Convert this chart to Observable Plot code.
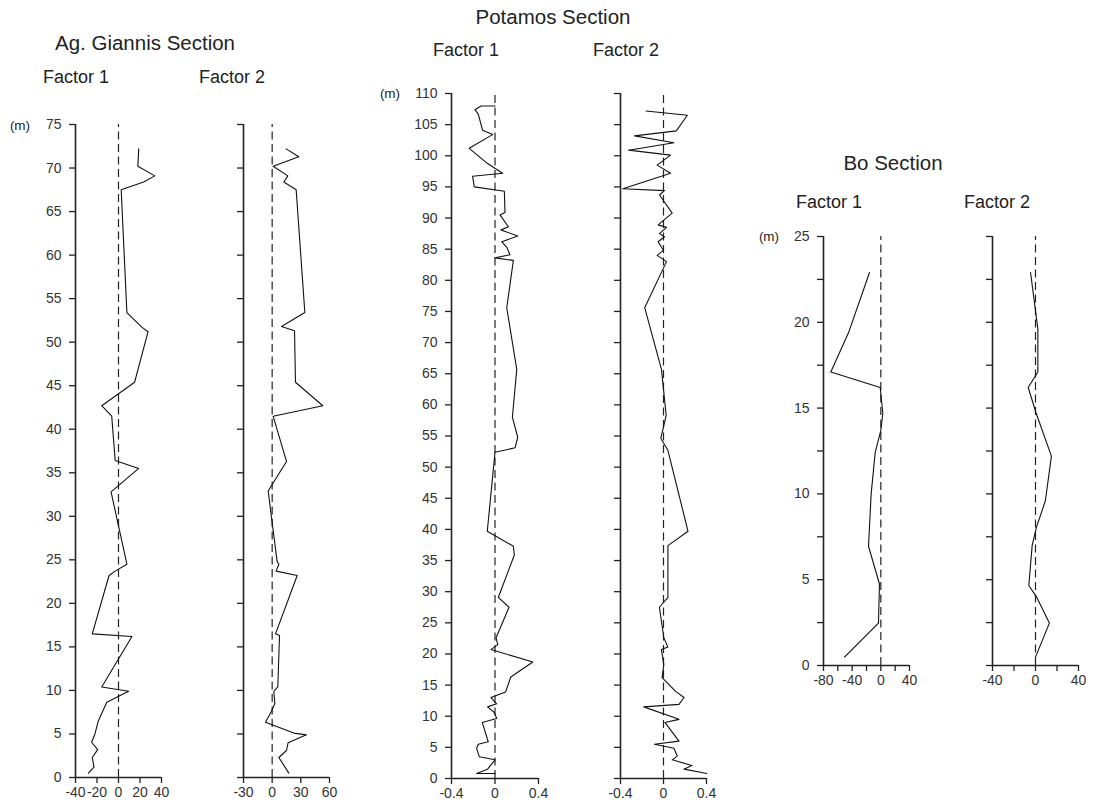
<!DOCTYPE html>
<html><head><meta charset="utf-8">
<script src="https://cdn.jsdelivr.net/npm/d3@7"></script>
<script src="https://cdn.jsdelivr.net/npm/@observablehq/plot@0.6"></script>
<style>
body{margin:0;background:#fff;font-family:"Liberation Sans",Arial,sans-serif;}
#root{position:relative;width:1093px;height:806px;overflow:hidden;background:#fff;}
.t{position:absolute;transform:translate(-50%,-50%);white-space:nowrap;color:#222;}
.panel{position:absolute;}
</style></head><body><div id="root"></div>
<script>
// ---- Ag. Giannis Section ----
const agF1Depth = [72.2, 70.2, 69.1, 68.4, 67.5, 53.4, 51.7, 51.2, 45.4, 42.7, 41.5, 36.4, 35.5, 32.8, 24.5, 23.7, 23.2, 16.5, 16.2, 10.4, 9.9, 8.65, 6.5, 5.0, 4.05, 3.2, 2.3, 1.2, 0.5];
const agF1Value = [18.8, 18, 33.8, 23.4, 2.5, 7.8, 21.9, 27.5, 15, -15.6, -6.3, -3.1, 18.8, -6.9, 7.8, -3.1, -8.8, -24.4, 12.5, -15.6, 9.4, -10.9, -18.8, -21.9, -25, -19.4, -24.4, -22.8, -28];
const agF2Depth = [72.2, 71.3, 70.2, 69.1, 68.4, 67.5, 53.4, 51.8, 51.3, 45.4, 42.7, 41.5, 36.3, 32.9, 24.8, 24.5, 23.7, 23.2, 16.5, 16.3, 10.4, 9.9, 8.5, 7.6, 6.35, 5.1, 4.9, 4.0, 3.1, 2.3, 0.5];
const agF2Value = [14.6, 27.9, 1, 16.4, 12.2, 25.1, 34.2, 9.8, 23.4, 24.4, 53, 1, 15, -4.2, 5.2, 7, 4.2, 26.2, 3.5, 7.7, 5.9, 1.7, 2.8, -0.7, -7, 22.7, 35.9, 16.7, 15, 7, 17.4];

// ---- Potamos Section ----
const ptF1Depth = [108.0, 108.0, 107.4, 106.7, 104.1, 103.4, 101.2, 98.75, 97.2, 96.7, 95.0, 94.3, 90.9, 90.5, 88.6, 88.1, 87.1, 86.2, 85.3, 84.1, 83.6, 83.2, 75.6, 65.7, 58.0, 54.8, 53.1, 52.4, 39.7, 37.3, 35.9, 29.1, 27.5, 22.6, 21.5, 20.7, 18.7, 16.3, 13.9, 13.0, 12.0, 11.5, 10.6, 9.65, 9.0, 5.9, 5.5, 4.85, 3.5, 3.0, 1.5, 0.8, 0.8];
const ptF1Value = [0, -0.129, -0.185, -0.154, -0.114, -0.022, -0.237, -0.068, 0.07, -0.206, -0.19, 0.086, 0.092, 0.046, 0.123, 0.055, 0.209, 0.062, 0.108, 0.138, 0, 0.169, 0.108, 0.2, 0.16, 0.209, 0.185, 0, -0.071, 0.169, 0.178, 0.031, 0.129, 0.01, 0.025, -0.037, 0.348, 0.145, 0.098, -0.037, 0.015, -0.068, -0.006, 0.015, -0.117, -0.062, -0.154, -0.169, -0.145, 0, -0.068, -0.169, 0];
const ptF2Depth = [107.2, 106.5, 104.0, 103.2, 102.1, 100.9, 100.1, 98.5, 97.2, 94.7, 94.4, 93.7, 90.8, 88.9, 88.5, 87.5, 87.0, 86.2, 84.8, 84.0, 83.0, 75.6, 65.7, 58.3, 54.6, 52.7, 39.7, 37.4, 29.1, 27.5, 22.6, 21.1, 20.7, 18.3, 16.2, 14.0, 13.0, 11.9, 11.5, 9.5, 9.0, 6.0, 5.5, 4.85, 3.6, 3.0, 2.1, 1.5, 0.8];
const ptF2Value = [-0.163, 0.222, 0.119, -0.269, 0.097, -0.325, 0.066, -0.059, 0.066, -0.378, 0.009, -0.037, 0.081, -0.05, 0.028, -0.037, 0.009, -0.05, 0, -0.059, 0.028, -0.175, -0.019, 0.025, -0.025, 0.041, 0.228, 0.041, 0.041, -0.038, 0.003, 0.041, -0.019, 0.003, -0.013, 0.113, 0.191, 0.144, -0.184, 0.144, 0.013, 0.144, -0.084, 0.097, 0.128, 0.081, 0.263, 0.191, 0.403];

// ---- Bo Section ----
const boF1Depth = [22.9, 19.4, 17.1, 16.2, 14.7, 13.7, 12.4, 10, 6.95, 4.75, 2.47, 0.49];
const boF1Value = [-15.8, -45, -69.8, -0.9, 2.8, 0, -7.9, -13.5, -17.2, -1.9, -3.3, -50.7];
const boF2Depth = [22.9, 19.6, 17.1, 16.2, 14.7, 12.2, 9.6, 8.06, 7.0, 4.66, 4.0, 2.47, 0.49];
const boF2Value = [-4.6, 2.2, 2.2, -6.8, 0.6, 14.8, 9.2, 0.9, -3.1, -6.2, 0.9, 12.9, 0];

// ---- tick values ----
const agYTicks = d3.range(0, 76, 5);
const ptYTicks = d3.range(0, 111, 5);
const boYTicks = d3.range(0, 25.1, 2.5);
const agF1XTicks = [-40, -20, 0, 20, 40];
const agF2XTicks = [-30, 0, 30, 60];
const ptXTicks = [-0.4, 0, 0.4];
const boF1XTicks = [-80, -60, -40, -20, 0, 20, 40];
const boF1XLabels = [-80, -40, 0, 40];
const boF2XTicks = [-40, -20, 0, 20, 40];
const boF2XLabels = [-40, 0, 40];

const root = document.getElementById("root");
const ML = 50, MR = 12, MT = 8, MB = 30;
const FONT = '"Liberation Sans", Arial, sans-serif';

function panel({depth, value, xDomain, yDomain, xTicks, xLabels, yTicks, yLabels, showY, box}) {
  const [x0, x1, y0, y1] = box;
  const rows = depth.map((d, i) => ({d, v: value[i]}));
  const xl = new Set(xLabels.map(String));
  const yl = new Set(yLabels.map(String));
  const fmtX = v => xl.has(String(v)) ? String(v) : "";
  const fmtY = v => (showY && yl.has(String(v))) ? String(v) : "";
  const svg = Plot.plot({
    width: ML + (x1 - x0) + MR,
    height: MT + (y1 - y0) + MB,
    marginLeft: ML, marginRight: MR, marginTop: MT, marginBottom: MB,
    style: {fontSize: "14px", fontFamily: FONT, color: "#333", background: "transparent", overflow: "visible"},
    x: {domain: xDomain, label: null},
    y: {domain: yDomain, label: null},
    marks: [
      Plot.ruleX([0], {y1: yDomain[0], y2: yDomain[1], stroke: "#222", strokeWidth: 1.2, strokeDasharray: "8,4.5"}),
      Plot.line(rows, {x: "v", y: "d", stroke: "#111", strokeWidth: 1.1, curve: "linear"}),
      Plot.ruleX([xDomain[0]], {stroke: "#222", strokeWidth: 1.6}),
      Plot.ruleY([yDomain[0]], {stroke: "#222", strokeWidth: 1.6}),
      Plot.axisY({ticks: yTicks, tickSize: 6, tickPadding: 8, tickFormat: fmtY, label: null, stroke: "#222", strokeWidth: 1.3, fill: "#333"}),
      Plot.axisX({ticks: xTicks, tickSize: 6, tickPadding: 4, tickFormat: fmtX, label: null, stroke: "#222", strokeWidth: 1.3, fill: "#333"})
    ]
  });
  svg.classList.add("panel");
  svg.style.left = (x0 - ML) + "px";
  svg.style.top = (y0 - MT) + "px";
  root.appendChild(svg);
}

panel({depth: agF1Depth, value: agF1Value, xDomain: [-40, 40], yDomain: [0, 75], xTicks: agF1XTicks, xLabels: agF1XTicks, yTicks: agYTicks, yLabels: agYTicks, showY: true, box: [75, 161, 124, 777]});
panel({depth: agF2Depth, value: agF2Value, xDomain: [-30, 60], yDomain: [0, 75], xTicks: agF2XTicks, xLabels: agF2XTicks, yTicks: agYTicks, yLabels: agYTicks, showY: false, box: [243, 329, 124, 777]});
panel({depth: ptF1Depth, value: ptF1Value, xDomain: [-0.4, 0.4], yDomain: [0, 110], xTicks: ptXTicks, xLabels: ptXTicks, yTicks: ptYTicks, yLabels: ptYTicks, showY: true, box: [451, 538, 93, 778]});
panel({depth: ptF2Depth, value: ptF2Value, xDomain: [-0.4, 0.4], yDomain: [0, 110], xTicks: ptXTicks, xLabels: ptXTicks, yTicks: ptYTicks, yLabels: ptYTicks, showY: false, box: [620, 706, 93, 778]});
panel({depth: boF1Depth, value: boF1Value, xDomain: [-80, 40], yDomain: [0, 25], xTicks: boF1XTicks, xLabels: boF1XLabels, yTicks: boYTicks, yLabels: [0, 5, 10, 15, 20, 25], showY: true, box: [823, 909, 236, 665]});
panel({depth: boF2Depth, value: boF2Value, xDomain: [-40, 40], yDomain: [0, 25], xTicks: boF2XTicks, xLabels: boF2XLabels, yTicks: boYTicks, yLabels: [0, 5, 10, 15, 20, 25], showY: false, box: [992, 1078, 236, 665]});

// ---- titles ----
const labels = [
  ["Ag. Giannis Section", 145, 43, 20.5],
  ["Factor 1", 76, 77, 18],
  ["Factor 2", 232, 77, 18],
  ["Potamos Section", 553, 17, 20.5],
  ["Factor 1", 466, 50, 18],
  ["Factor 2", 626, 50, 18],
  ["Bo Section", 893, 163, 20.5],
  ["Factor 1", 829, 202, 18],
  ["Factor 2", 997, 202, 18],
  ["(m)", 20, 125, 13.5],
  ["(m)", 390, 93, 13.5],
  ["(m)", 769, 236, 13.5]
];
for (const [txt, x, y, fs] of labels) {
  const el = document.createElement("div");
  el.className = "t";
  el.textContent = txt;
  el.style.left = x + "px";
  el.style.top = y + "px";
  el.style.fontSize = fs + "px";
  root.appendChild(el);
}
</script>
</body></html>
